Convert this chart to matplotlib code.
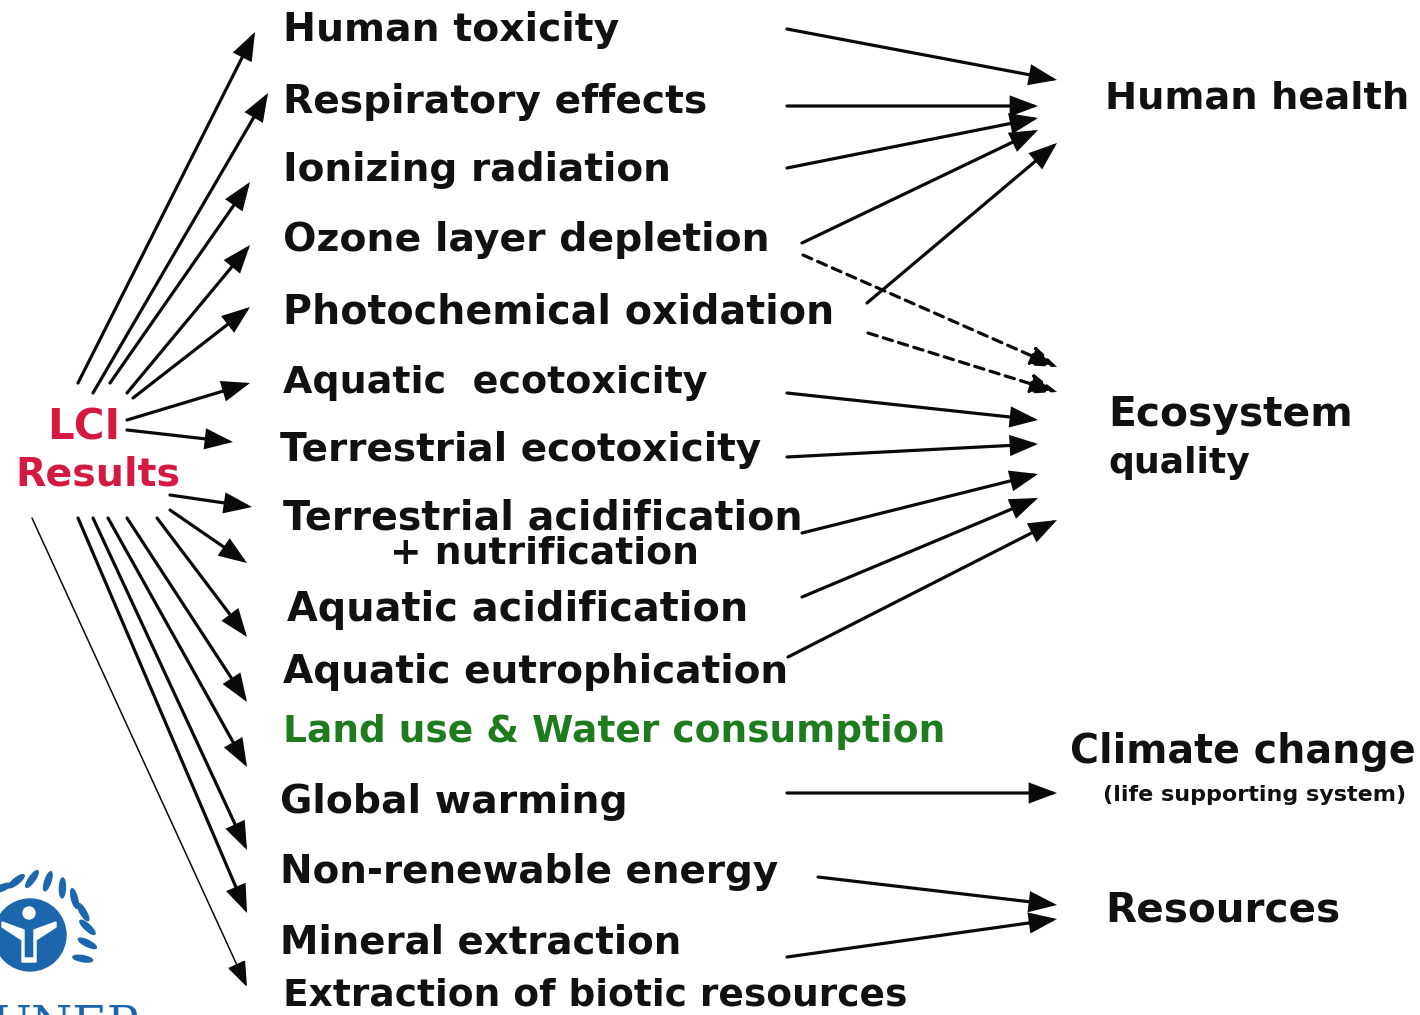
import numpy as np
import matplotlib
matplotlib.use("Agg")
import matplotlib.pyplot as plt
from matplotlib.patches import FancyArrowPatch, Circle, Ellipse, Polygon

# impact categories (midpoints): label, x, baseline y, right end x (for width fit)
mid_labels = ["Human toxicity", "Respiratory effects", "Ionizing radiation",
              "Ozone layer depletion", "Photochemical oxidation", "Aquatic  ecotoxicity",
              "Terrestrial ecotoxicity", "Terrestrial acidification", "+ nutrification",
              "Aquatic acidification", "Aquatic eutrophication",
              "Land use & Water consumption", "Global warming", "Non-renewable energy",
              "Mineral extraction", "Extraction of biotic resources"]
mid_x = [283, 283, 283, 283, 283, 283, 280, 283, 390, 287, 283, 283, 280, 280, 280, 283]
mid_base = [41, 113, 181, 251, 323, 393, 461, 529, 563, 621, 683, 742, 813, 883, 954, 1006]
mid_x1 = [620, 708, 672, 770, 835, 707, 762, 803, 700, 748, 790, 947, 628, 780, 683, 908]
mid_colors = ["#111111"] * 11 + ["#1e7b1e"] + ["#111111"] * 4

# damage categories (endpoints)
end_labels = ["Human health", "Ecosystem", "quality", "Climate change",
              "(life supporting system)", "Resources"]
end_x = [1105, 1108, 1108, 1070, 1103, 1105]
end_base = [108, 426, 473, 763, 801, 922]
end_x1 = [1410, 1353, 1250, 1415, 1405, 1340]

src_labels = ["LCI", "Results"]
src_x = [47, 15]
src_base = [440, 485]
src_x1 = [120, 180]

# arrows LCI -> midpoints: (x0, y0, x1, y1)
left_arrows = [(78, 383, 255, 32), (93, 393, 268, 93), (110, 383, 250, 182),
               (127, 393, 250, 245), (133, 398, 250, 307), (127, 420, 250, 383),
               (127, 430, 233, 442), (170, 495, 252, 507), (170, 510, 247, 563),
               (157, 518, 247, 637), (127, 518, 247, 702), (108, 518, 247, 767),
               (93, 518, 247, 850), (78, 518, 247, 913)]
thin_arrow = (32, 518, 247, 987)

# arrows midpoints -> endpoints
right_arrows = [(787, 29, 1057, 80), (787, 106, 1038, 106), (787, 168, 1038, 118),
                (802, 243, 1038, 130), (867, 303, 1057, 143),
                (787, 393, 1038, 420), (787, 457, 1038, 444), (802, 533, 1038, 474),
                (802, 597, 1038, 498), (788, 657, 1057, 520),
                (787, 793, 1057, 793), (818, 877, 1057, 905), (787, 957, 1057, 919)]
dashed_arrows = [(803, 255, 1057, 367), (868, 333, 1057, 392)]

fig = plt.figure(figsize=(14.2, 10.15), dpi=100)
ax = fig.add_axes([0, 0, 1, 1])
ax.set_xlim(0, 1420)
ax.set_ylim(1015, 0)
ax.axis("off")

def arrow(seg, lw=2.3, ls="-"):
    x0, y0, x1, y1 = seg
    a = FancyArrowPatch((x0, y0), (x1, y1), arrowstyle="-|>,head_length=0.8,head_width=0.3",
                        mutation_scale=20, lw=lw, color="#0a0a0a", linestyle=ls,
                        shrinkA=0, shrinkB=0, joinstyle="miter")
    ax.add_patch(a)

for s in left_arrows:
    arrow(s)
arrow(thin_arrow, lw=1.1)
for s in right_arrows:
    arrow(s)
for s in dashed_arrows:
    arrow(s, ls=(0, (3, 2)))

# texts, then fit font size to the widths
texts = []
for lab, x, yb, x1, c in zip(mid_labels, mid_x, mid_base, mid_x1, mid_colors):
    t = ax.text(x, yb, lab, fontsize=26, fontweight="bold", color=c, va="baseline", ha="left")
    texts.append((t, x1 - x))
for lab, x, yb, x1 in zip(end_labels, end_x, end_base, end_x1):
    fs = 11 if lab.startswith("(") else 26
    t = ax.text(x, yb, lab, fontsize=fs, fontweight="bold", color="#111111", va="baseline", ha="left")
    texts.append((t, x1 - x))
for lab, x, yb, x1 in zip(src_labels, src_x, src_base, src_x1):
    t = ax.text(x, yb, lab, fontsize=26, fontweight="bold", color="#d41a40", va="baseline", ha="left")
    texts.append((t, x1 - x))

fig.canvas.draw()
r = fig.canvas.get_renderer()
for t, w in texts:
    wm = t.get_window_extent(r).width
    t.set_fontsize(t.get_fontsize() * w / wm)

# UNEP logo (rough)
blue = "#1c66ab"
ax.add_patch(Circle((30, 935), 36, color=blue, zorder=3))
ax.add_patch(Circle((29, 913), 6, color="white", zorder=4))
ax.add_patch(Polygon([(2, 922), (24, 930), (24, 958), (34, 958), (34, 930), (56, 922),
                      (56, 927), (36, 940), (36, 962), (22, 962), (22, 940), (2, 927)],
                     closed=True, color="white", zorder=4))
for ang in np.linspace(-115, 115, 15):
    th = np.radians(ang)
    cx, cy = 32 + 56 * np.sin(th), 935 - 56 * np.cos(th)
    ax.add_patch(Ellipse((cx, cy), 6, 20, angle=-ang + 35, color=blue, zorder=3))
ax.text(-8, 1003, "UNEP", fontsize=34, color=blue, family="DejaVu Serif", va="top", ha="left")

fig.savefig("out.png", dpi=100)
